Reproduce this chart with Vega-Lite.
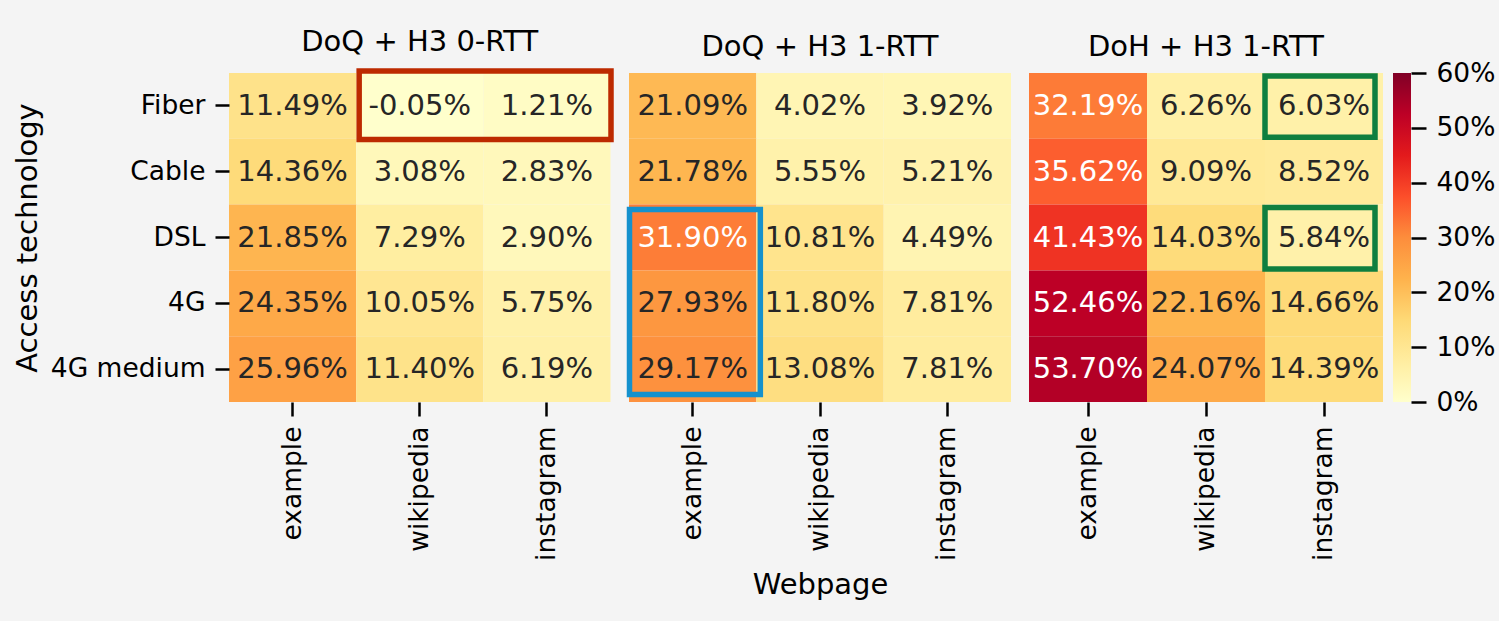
{
  "$schema": "https://vega.github.io/schema/vega-lite/v6.json",
  "background": "#f4f4f4",
  "padding": {"left": 13, "top": 28, "right": 5, "bottom": 21},
  "datasets": {
    "cells": [
      {"p": "DoQ + H3 0-RTT", "t": "Fiber", "w": "example", "v": 0.1149},
      {"p": "DoQ + H3 0-RTT", "t": "Fiber", "w": "wikipedia", "v": -0.0005},
      {"p": "DoQ + H3 0-RTT", "t": "Fiber", "w": "instagram", "v": 0.0121},
      {"p": "DoQ + H3 0-RTT", "t": "Cable", "w": "example", "v": 0.1436},
      {"p": "DoQ + H3 0-RTT", "t": "Cable", "w": "wikipedia", "v": 0.0308},
      {"p": "DoQ + H3 0-RTT", "t": "Cable", "w": "instagram", "v": 0.0283},
      {"p": "DoQ + H3 0-RTT", "t": "DSL", "w": "example", "v": 0.2185},
      {"p": "DoQ + H3 0-RTT", "t": "DSL", "w": "wikipedia", "v": 0.0729},
      {"p": "DoQ + H3 0-RTT", "t": "DSL", "w": "instagram", "v": 0.0290},
      {"p": "DoQ + H3 0-RTT", "t": "4G", "w": "example", "v": 0.2435},
      {"p": "DoQ + H3 0-RTT", "t": "4G", "w": "wikipedia", "v": 0.1005},
      {"p": "DoQ + H3 0-RTT", "t": "4G", "w": "instagram", "v": 0.0575},
      {"p": "DoQ + H3 0-RTT", "t": "4G medium", "w": "example", "v": 0.2596},
      {"p": "DoQ + H3 0-RTT", "t": "4G medium", "w": "wikipedia", "v": 0.1140},
      {"p": "DoQ + H3 0-RTT", "t": "4G medium", "w": "instagram", "v": 0.0619},
      {"p": "DoQ + H3 1-RTT", "t": "Fiber", "w": "example", "v": 0.2109},
      {"p": "DoQ + H3 1-RTT", "t": "Fiber", "w": "wikipedia", "v": 0.0402},
      {"p": "DoQ + H3 1-RTT", "t": "Fiber", "w": "instagram", "v": 0.0392},
      {"p": "DoQ + H3 1-RTT", "t": "Cable", "w": "example", "v": 0.2178},
      {"p": "DoQ + H3 1-RTT", "t": "Cable", "w": "wikipedia", "v": 0.0555},
      {"p": "DoQ + H3 1-RTT", "t": "Cable", "w": "instagram", "v": 0.0521},
      {"p": "DoQ + H3 1-RTT", "t": "DSL", "w": "example", "v": 0.3190},
      {"p": "DoQ + H3 1-RTT", "t": "DSL", "w": "wikipedia", "v": 0.1081},
      {"p": "DoQ + H3 1-RTT", "t": "DSL", "w": "instagram", "v": 0.0449},
      {"p": "DoQ + H3 1-RTT", "t": "4G", "w": "example", "v": 0.2793},
      {"p": "DoQ + H3 1-RTT", "t": "4G", "w": "wikipedia", "v": 0.1180},
      {"p": "DoQ + H3 1-RTT", "t": "4G", "w": "instagram", "v": 0.0781},
      {"p": "DoQ + H3 1-RTT", "t": "4G medium", "w": "example", "v": 0.2917},
      {"p": "DoQ + H3 1-RTT", "t": "4G medium", "w": "wikipedia", "v": 0.1308},
      {"p": "DoQ + H3 1-RTT", "t": "4G medium", "w": "instagram", "v": 0.0781},
      {"p": "DoH + H3 1-RTT", "t": "Fiber", "w": "example", "v": 0.3219},
      {"p": "DoH + H3 1-RTT", "t": "Fiber", "w": "wikipedia", "v": 0.0626},
      {"p": "DoH + H3 1-RTT", "t": "Fiber", "w": "instagram", "v": 0.0603},
      {"p": "DoH + H3 1-RTT", "t": "Cable", "w": "example", "v": 0.3562},
      {"p": "DoH + H3 1-RTT", "t": "Cable", "w": "wikipedia", "v": 0.0909},
      {"p": "DoH + H3 1-RTT", "t": "Cable", "w": "instagram", "v": 0.0852},
      {"p": "DoH + H3 1-RTT", "t": "DSL", "w": "example", "v": 0.4143},
      {"p": "DoH + H3 1-RTT", "t": "DSL", "w": "wikipedia", "v": 0.1403},
      {"p": "DoH + H3 1-RTT", "t": "DSL", "w": "instagram", "v": 0.0584},
      {"p": "DoH + H3 1-RTT", "t": "4G", "w": "example", "v": 0.5246},
      {"p": "DoH + H3 1-RTT", "t": "4G", "w": "wikipedia", "v": 0.2216},
      {"p": "DoH + H3 1-RTT", "t": "4G", "w": "instagram", "v": 0.1466},
      {"p": "DoH + H3 1-RTT", "t": "4G medium", "w": "example", "v": 0.5370},
      {"p": "DoH + H3 1-RTT", "t": "4G medium", "w": "wikipedia", "v": 0.2407},
      {"p": "DoH + H3 1-RTT", "t": "4G medium", "w": "instagram", "v": 0.1439}
    ]
  },
  "spacing": 10,
  "hconcat": [
    {
      "spacing": 18,
      "bounds": "flush",
      "hconcat": [
        {
          "width": 381.5,
          "height": 329,
          "title": {"text": "DoQ + H3 0-RTT"},
          "layer": [
            {
              "data": {"name": "cells"},
              "transform": [{"filter": "datum.p === 'DoQ + H3 0-RTT'"}],
              "mark": {"type": "rect"},
              "encoding": {
                "x": {"field": "w", "type": "nominal", "scale": {"domain": ["example", "wikipedia", "instagram"], "paddingInner": 0, "paddingOuter": 0}, "axis": {"title": null, "labelAngle": -90}},
                "y": {"field": "t", "type": "nominal", "scale": {"domain": ["Fiber", "Cable", "DSL", "4G", "4G medium"], "paddingInner": 0, "paddingOuter": 0}, "axis": {"title": "Access technology", "titlePadding": 8}},
                "color": {"field": "v", "type": "quantitative", "scale": {"domain": [0, 0.6], "clamp": true, "interpolate": "rgb", "range": ["#ffffcc", "#ffeda0", "#fed976", "#feb24c", "#fd8d3c", "#fc4e2a", "#e31a1c", "#bd0026", "#800026"]}, "legend": null}
              }
            },
            {
              "data": {"name": "cells"},
              "transform": [{"filter": "datum.p === 'DoQ + H3 0-RTT'"}],
              "mark": {"type": "text", "fontSize": 29},
              "encoding": {
                "x": {"field": "w", "type": "nominal"},
                "y": {"field": "t", "type": "nominal"},
                "text": {"field": "v", "type": "quantitative", "format": ".2%"},
                "color": {"condition": {"test": "datum.v >= 0.3", "value": "white"}, "value": "#262626"}
              }
            },
            {
              "data": {"values": [{"c1": "wikipedia", "c2": "instagram", "r1": "Fiber", "r2": "Fiber"}]},
              "mark": {"type": "rect", "filled": false, "color": "#bd2a00", "strokeWidth": 5.5, "xOffset": 3, "x2Offset": 0.5, "yOffset": -2, "y2Offset": 0.7},
              "encoding": {
                "x": {"field": "c1", "type": "nominal", "bandPosition": 0},
                "x2": {"field": "c2", "bandPosition": 1},
                "y": {"field": "r1", "type": "nominal", "bandPosition": 0},
                "y2": {"field": "r2", "bandPosition": 1}
              }
            }
          ]
        },
        {
          "width": 382,
          "height": 329,
          "title": {"text": "DoQ + H3 1-RTT"},
          "layer": [
            {
              "data": {"name": "cells"},
              "transform": [{"filter": "datum.p === 'DoQ + H3 1-RTT'"}],
              "mark": {"type": "rect"},
              "encoding": {
                "x": {"field": "w", "type": "nominal", "scale": {"domain": ["example", "wikipedia", "instagram"], "paddingInner": 0, "paddingOuter": 0}, "axis": {"title": "Webpage", "labelAngle": -90}},
                "y": {"field": "t", "type": "nominal", "scale": {"domain": ["Fiber", "Cable", "DSL", "4G", "4G medium"], "paddingInner": 0, "paddingOuter": 0}, "axis": null},
                "color": {"field": "v", "type": "quantitative", "legend": null}
              }
            },
            {
              "data": {"name": "cells"},
              "transform": [{"filter": "datum.p === 'DoQ + H3 1-RTT'"}],
              "mark": {"type": "text", "fontSize": 29},
              "encoding": {
                "x": {"field": "w", "type": "nominal"},
                "y": {"field": "t", "type": "nominal"},
                "text": {"field": "v", "type": "quantitative", "format": ".2%"},
                "color": {"condition": {"test": "datum.v >= 0.3", "value": "white"}, "value": "#262626"}
              }
            },
            {
              "data": {"values": [{"c1": "example", "c2": "example", "r1": "DSL", "r2": "4G medium"}]},
              "mark": {"type": "rect", "filled": false, "color": "#1591cd", "strokeWidth": 5.5, "xOffset": 0.5, "x2Offset": 4, "yOffset": 5, "y2Offset": -7.5},
              "encoding": {
                "x": {"field": "c1", "type": "nominal", "bandPosition": 0},
                "x2": {"field": "c2", "bandPosition": 1},
                "y": {"field": "r1", "type": "nominal", "bandPosition": 0},
                "y2": {"field": "r2", "bandPosition": 1}
              }
            }
          ]
        },
        {
          "width": 354,
          "height": 329,
          "title": {"text": "DoH + H3 1-RTT"},
          "layer": [
            {
              "data": {"name": "cells"},
              "transform": [{"filter": "datum.p === 'DoH + H3 1-RTT'"}],
              "mark": {"type": "rect"},
              "encoding": {
                "x": {"field": "w", "type": "nominal", "scale": {"domain": ["example", "wikipedia", "instagram"], "paddingInner": 0, "paddingOuter": 0}, "axis": {"title": null, "labelAngle": -90}},
                "y": {"field": "t", "type": "nominal", "scale": {"domain": ["Fiber", "Cable", "DSL", "4G", "4G medium"], "paddingInner": 0, "paddingOuter": 0}, "axis": null},
                "color": {"field": "v", "type": "quantitative", "legend": null}
              }
            },
            {
              "data": {"name": "cells"},
              "transform": [{"filter": "datum.p === 'DoH + H3 1-RTT'"}],
              "mark": {"type": "text", "fontSize": 29},
              "encoding": {
                "x": {"field": "w", "type": "nominal"},
                "y": {"field": "t", "type": "nominal"},
                "text": {"field": "v", "type": "quantitative", "format": ".2%"},
                "color": {"condition": {"test": "datum.v >= 0.3", "value": "white"}, "value": "#262626"}
              }
            },
            {
              "data": {"values": [{"c1": "instagram", "c2": "instagram", "r1": "Fiber", "r2": "Fiber"}, {"c1": "instagram", "c2": "instagram", "r1": "DSL", "r2": "DSL"}]},
              "mark": {"type": "rect", "filled": false, "color": "#0f7f3f", "strokeWidth": 5.5, "xOffset": 0, "x2Offset": -8, "yOffset": 3, "y2Offset": -1.5},
              "encoding": {
                "x": {"field": "c1", "type": "nominal", "bandPosition": 0},
                "x2": {"field": "c2", "bandPosition": 1},
                "y": {"field": "r1", "type": "nominal", "bandPosition": 0},
                "y2": {"field": "r2", "bandPosition": 1}
              }
            }
          ]
        }
      ]
    },
    {
      "width": 18,
      "height": 329,
      "data": {"values": [{"lo": 0, "hi": 0.6}]},
      "mark": {
        "type": "rect",
        "fill": {
          "gradient": "linear", "x1": 0, "y1": 1, "x2": 0, "y2": 0,
          "stops": [
            {"offset": 0, "color": "#ffffcc"},
            {"offset": 0.125, "color": "#ffeda0"},
            {"offset": 0.25, "color": "#fed976"},
            {"offset": 0.375, "color": "#feb24c"},
            {"offset": 0.5, "color": "#fd8d3c"},
            {"offset": 0.625, "color": "#fc4e2a"},
            {"offset": 0.75, "color": "#e31a1c"},
            {"offset": 0.875, "color": "#bd0026"},
            {"offset": 1, "color": "#800026"}
          ]
        }
      },
      "encoding": {
        "y": {"field": "lo", "type": "quantitative", "scale": {"domain": [0, 0.6], "nice": false, "zero": false}, "axis": {"orient": "right", "title": null, "values": [0, 0.1, 0.2, 0.3, 0.4, 0.5, 0.6], "format": ".0%", "tickSize": 15}},
        "y2": {"field": "hi"}
      }
    }
  ],
  "config": {
    "font": "DejaVu Sans",
    "locale": {"number": {"decimal": ".", "thousands": ",", "grouping": [3], "currency": ["$", ""], "minus": "-"}},
    "view": {"stroke": null},
    "title": {"fontSize": 29, "fontWeight": "normal", "color": "black", "offset": 11, "font": "DejaVu Sans"},
    "axis": {
      "labelFont": "DejaVu Sans", "titleFont": "DejaVu Sans",
      "labelFontSize": 26.5, "titleFontSize": 29, "titleFontWeight": "normal",
      "labelColor": "black", "titleColor": "black", "tickColor": "black",
      "tickWidth": 2.5, "tickSize": 14, "domain": false, "grid": false,
      "labelPadding": 10, "titlePadding": 10
    }
  }
}
